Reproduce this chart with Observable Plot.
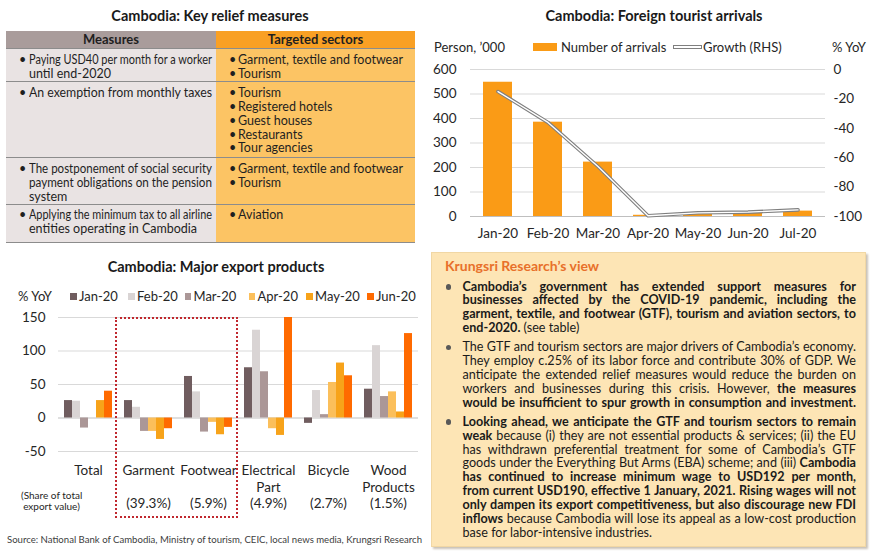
<!DOCTYPE html>
<html><head><meta charset="utf-8">
<script src="https://cdn.jsdelivr.net/npm/d3@7"></script>
<script src="https://cdn.jsdelivr.net/npm/@observablehq/plot@0.6"></script>
<style>
*{box-sizing:border-box}
body{margin:0;width:870px;height:554px;position:relative;overflow:hidden;background:#fff;font-family:Lato,"Open Sans",sans-serif;color:#1f1f1f}
.abs{position:absolute}
.title{position:absolute;font-weight:700;font-size:14.5px;white-space:nowrap;transform:translate(-50%,-50%);color:#1a1a1a}
.ln{white-space:nowrap;display:block}
.ln>span{white-space:nowrap}
.j{text-align:justify;text-align-last:justify}
#tbl{position:absolute;left:6px;top:31px;width:409px;font-size:12.5px;line-height:13.9px;color:#1f1f1f}
.tr{display:flex;border-bottom:1.5px solid #8c8c8c}
.c1{width:210px;background:#e9e3e3;padding-top:3.5px}
.c2{width:199px;background:#fcc464;padding-top:3.5px}
.hd .c1,.hd .c2{font-weight:700;text-align:center;padding-top:2px;font-size:13px}
.hd .c1{background:#a99c9b}
.hd .c2{background:#f9a024}
.item{position:relative;padding-left:23px}
.item .b{position:absolute;left:13px;top:0}
.item .ln{width:183px}
.c2 .item{padding-left:22px}
.c2 .item .ln{width:174px}
#view{position:absolute;left:431px;top:252px;width:435px;height:295px;background:#fde5b5;border:1px solid #f1d7a4;box-shadow:2px 2px 2px #c9c2b8}
#view .vt{position:absolute;left:13px;top:4px;font-weight:700;font-size:14px;color:#e8702a;white-space:nowrap}
#view .para{position:absolute;left:30.5px;width:393.5px;font-size:12.6px;line-height:13.9px;color:#1a1a1a}
#view .dot{position:absolute;left:-17px;top:4.5px;width:5.5px;height:5.5px;border-radius:50%;background:#595959}
.leg{position:absolute;font-size:13px;white-space:nowrap;color:#262626;transform:translateY(-50%)}
.sw{position:absolute}
</style>
</head><body>

<div class="title" style="left:210px;top:15px">Cambodia: Key relief measures</div>
<div id="tbl"></div>

<div class="title" style="left:654px;top:15px">Cambodia: Foreign tourist arrivals</div>
<div class="leg" style="left:434px;top:47px">Person, ’000</div>
<div class="sw" style="left:533px;top:43px;width:24px;height:8px;background:#fa9b16"></div>
<div class="leg" style="left:561px;top:47px">Number of arrivals</div>
<div class="sw" style="left:673px;top:45.3px;width:29px;height:3.4px;background:#fff;border:1.1px solid #7f7f7f"></div>
<div class="leg" style="left:703px;top:47px">Growth (RHS)</div>
<div class="leg" style="left:832px;top:47px">% YoY</div>
<div id="tour" class="abs" style="left:430px;top:58px"></div>

<div class="title" style="left:216px;top:266px">Cambodia: Major export products</div>
<div class="leg" style="left:18px;top:296px">% YoY</div>
<div id="exleg"></div>
<div id="export" class="abs" style="left:0px;top:306px"></div>
<div class="abs" style="left:21px;top:490px;font-size:10px;line-height:11px;text-align:center;width:61px;color:#262626;white-space:nowrap">(Share of total<br>export value)</div>
<div class="abs" style="left:115px;top:316.5px;width:123px;height:201px;border:2.5px dotted #c0282e"></div>
<div class="abs" style="left:7px;top:533px;width:415px;font-size:9.8px;color:#404040"><div class="ln"><span>Source: National Bank of Cambodia, Ministry of tourism, CEIC, local news media, Krungsri Research</span></div></div>

<div id="view">
  <div class="vt">Krungsri Research’s view</div>
  <div class="para" style="top:26.5px"><span class="dot"></span>
    <div class="ln j"><span><b>Cambodia’s government has extended support measures for</b></span></div>
    <div class="ln j"><span><b>businesses affected by the COVID-19 pandemic, including the</b></span></div>
    <div class="ln j"><span><b>garment, textile, and footwear (GTF), tourism and aviation sectors, to</b></span></div>
    <div class="ln"><span><b>end-2020.</b> (see table)</span></div>
  </div>
  <div class="para" style="top:87px"><span class="dot"></span>
    <div class="ln j"><span>The GTF and tourism sectors are major drivers of Cambodia’s economy.</span></div>
    <div class="ln j"><span>They employ c.25% of its labor force and contribute 30% of GDP. We</span></div>
    <div class="ln j"><span>anticipate the extended relief measures would reduce the burden on</span></div>
    <div class="ln j"><span>workers and businesses during this crisis. However, <b>the measures</b></span></div>
    <div class="ln j"><span><b>would be insufficient to spur growth in consumption and investment.</b></span></div>
  </div>
  <div class="para" style="top:161.7px"><span class="dot"></span>
    <div class="ln j"><span><b>Looking ahead, we anticipate the GTF and tourism sectors to remain</b></span></div>
    <div class="ln j"><span><b>weak</b> because (i) they are not essential products &amp; services; (ii) the EU</span></div>
    <div class="ln j"><span>has withdrawn preferential treatment for some of Cambodia’s GTF</span></div>
    <div class="ln j"><span>goods under the Everything But Arms (EBA) scheme; and (iii) <b>Cambodia</b></span></div>
    <div class="ln j"><span><b>has continued to increase minimum wage to USD192 per month,</b></span></div>
    <div class="ln j"><span><b>from current USD190, effective 1 January, 2021. Rising wages will not</b></span></div>
    <div class="ln j"><span><b>only dampen its export competitiveness, but also discourage new FDI</b></span></div>
    <div class="ln j"><span><b>inflows</b> because Cambodia will lose its appeal as a low-cost production</span></div>
    <div class="ln"><span>base for labor-intensive industries.</span></div>
  </div>
</div>

<script>
// ---------- Table data ----------
const tableHeaders = ["Measures", "Targeted sectors"];
const measures = [
  [["Paying USD40 per month for a worker", "until end-2020"]],
  [["An exemption from monthly taxes"]],
  [["The postponement of social security", "payment obligations on the pension", "system"]],
  [["Applying the minimum tax to all airline", "entities operating in Cambodia"]]
];
const sectors = [
  [["Garment, textile and footwear"], ["Tourism"]],
  [["Tourism"], ["Registered hotels"], ["Guest houses"], ["Restaurants"], ["Tour agencies"]],
  [["Garment, textile and footwear"], ["Tourism"]],
  [["Aviation"]]
];
const rowHeights = [33, 76, 46.7, 38.3];

// ---------- Tourist arrivals data ----------
const tourMonths = ["Jan-20", "Feb-20", "Mar-20", "Apr-20", "May-20", "Jun-20", "Jul-20"];
const arrivals = [548, 385, 222, 5, 12, 14, 22];
const growthYoY = [-15, -36, -66, -99.5, -97.5, -97, -95.5];
const arrivalTicks = [0, 100, 200, 300, 400, 500, 600];
const growthTicks = [0, -20, -40, -60, -80, -100];

// ---------- Export products data ----------
const products = ["Total", "Garment", "Footwear", "Electrical Part", "Bicycle", "Wood Products"];
const productLabels = ["Total", "Garment", "Footwear", "Electrical\nPart", "Bicycle", "Wood\nProducts"];
const shares = ["", "(39.3%)", "(5.9%)", "(4.9%)", "(2.7%)", "(1.5%)"];
const exportMonths = ["Jan-20", "Feb-20", "Mar-20", "Apr-20", "May-20", "Jun-20"];
const exJan = [26, 26, 62, 75, -8, 43];
const exFeb = [25, 16, 39, 131, 41, 108];
const exMar = [-15, -20, -21, 69, 5, 32];
const exApr = [null, -20, -6.5, -16, 53, 39];
const exMay = [26, -32, -25, -26, 82, 9];
const exJun = [40, -16, -14, 150, 63, 126];
const exportTicks = [-50, 0, 50, 100, 150];
const exportColors = ["#705d5f", "#d9d4d4", "#ab9797", "#fbbf5b", "#f7a31a", "#ff6a00"];

// ---------- Build table ----------
(function(){
  const t = document.getElementById("tbl");
  let h = `<div class="tr hd" style="height:18.3px"><div class="c1">${tableHeaders[0]}</div><div class="c2">${tableHeaders[1]}</div></div>`;
  const cell = items => items.map(lines => `<div class="item"><span class="b">•</span>${lines.map(l => `<div class="ln"><span>${l}</span></div>`).join("")}</div>`).join("");
  measures.forEach((m, i) => {
    h += `<div class="tr" style="height:${rowHeights[i]}px"><div class="c1">${cell(m)}</div><div class="c2">${cell(sectors[i])}</div></div>`;
  });
  t.innerHTML = h;
})();

// ---------- Export legend ----------
(function(){
  const xs = [70, 128, 184.5, 248.5, 306, 367];
  document.getElementById("exleg").innerHTML = exportMonths.map((m, i) =>
    `<div class="sw" style="left:${xs[i]}px;top:292.5px;width:6.5px;height:7px;background:${exportColors[i]}"></div>` +
    `<div class="leg" style="left:${xs[i] + 9}px;top:296px">${m}</div>`).join("");
})();

const baseStyle = {fontFamily: "Lato, sans-serif", fontSize: "13.5px", color: "#262626", background: "none", overflow: "visible"};

// ---------- Tourist chart ----------
const tour = tourMonths.map((m, i) => ({month: m, arrivals: arrivals[i], growth: growthYoY[i]}));
const toLeft = g => (g + 100) * 6;
const tourPlot = Plot.plot({
  width: 440, height: 190,
  marginLeft: 40, marginRight: 45, marginTop: 11, marginBottom: 32,
  style: baseStyle,
  x: {domain: tourMonths, paddingInner: 0.43, paddingOuter: 0.215, label: null},
  y: {domain: [0, 600], label: null},
  marks: [
    Plot.gridY(arrivalTicks.slice(1), {stroke: "#d9d9d9", strokeOpacity: 1}),
    Plot.ruleY([0], {stroke: "#bfbfbf"}),
    Plot.barY(tour, {x: "month", y: "arrivals", fill: "#fa9b16"}),
    Plot.line(tour, {x: "month", y: d => toLeft(d.growth), stroke: "#7f7f7f", strokeWidth: 3.6}),
    Plot.line(tour, {x: "month", y: d => toLeft(d.growth), stroke: "#ffffff", strokeWidth: 1.4}),
    Plot.axisY(arrivalTicks, {anchor: "left", tickSize: 0, tickPadding: 14, label: null, tickFormat: d => String(d)}),
    Plot.axisY(growthTicks.map(toLeft), {anchor: "right", tickSize: 0, tickPadding: 8, label: null, tickFormat: v => String(Math.round(v / 6 - 100))}),
    Plot.axisX({tickSize: 0, tickPadding: 12, label: null})
  ]
});
document.getElementById("tour").appendChild(tourPlot);

// ---------- Export chart ----------
const exportSeries = [exJan, exFeb, exMar, exApr, exMay, exJun];
const exportRows = exportSeries.flatMap((vals, j) =>
  vals.map((v, i) => ({product: products[i], month: exportMonths[j], value: v}))).filter(d => d.value != null);
const exportPlot = Plot.plot({
  width: 425, height: 215,
  marginLeft: 58, marginRight: 7, marginTop: 11, marginBottom: 70,
  style: baseStyle,
  fx: {domain: products, padding: 0, label: null},
  x: {domain: exportMonths, paddingInner: 0, paddingOuter: 0.75, axis: null},
  y: {domain: [-50, 150], label: null},
  color: {domain: exportMonths, range: exportColors},
  marks: [
    Plot.gridY([-50, 50, 100, 150], {stroke: "#d9d9d9", strokeOpacity: 1}),
    Plot.ruleY([0], {stroke: "#bfbfbf"}),
    Plot.barY(exportRows, {fx: "product", x: "month", y: "value", fill: "month"}),
    Plot.axisY(exportTicks, {tickSize: 0, tickPadding: 13, label: null, tickFormat: d => String(d)}),
    Plot.axisFx({
      anchor: "bottom",
      tickSize: 0, tickPadding: 12, label: null, lineHeight: 1.22,
      tickFormat: d => {
        const i = products.indexOf(d);
        const lab = productLabels[i];
        const n = lab.split("\n").length;
        return shares[i] ? lab + "\n".repeat(3 - n) + shares[i] : lab;
      }
    })
  ]
});
document.getElementById("export").appendChild(exportPlot);

// ---------- fit text lines ----------
function fit(){
  document.querySelectorAll(".ln").forEach(el => {
    const s = el.firstElementChild;
    el.style.whiteSpace = "nowrap";
    s.style.display = "inline"; s.style.transform = "";
    const w = s.getBoundingClientRect().width, cw = el.clientWidth;
    if (w > cw + 0.5) {
      s.style.display = "inline-block";
      s.style.transformOrigin = "0 50%";
      s.style.transform = `scaleX(${cw / w})`;
    } else if (el.classList.contains("j")) {
      el.style.whiteSpace = "normal";
    }
  });
}
fit();
if (document.fonts && document.fonts.ready) document.fonts.ready.then(fit);
</script>
</body></html>
